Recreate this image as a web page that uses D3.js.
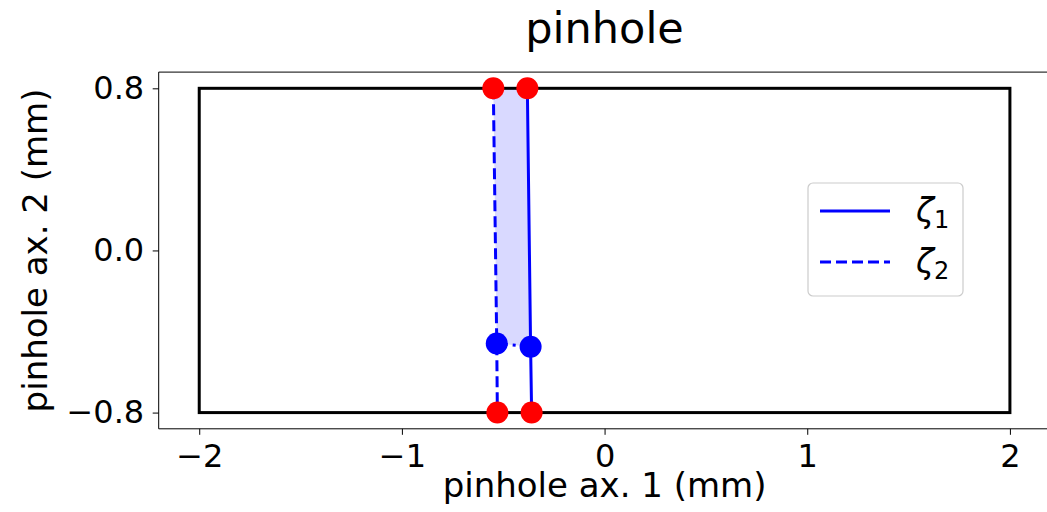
<!DOCTYPE html>
<html>
<head>
<meta charset="utf-8">
<script src="https://cdn.jsdelivr.net/npm/d3@7"></script>
<style>
  html, body { margin: 0; padding: 0; background: #fff; }
  svg { display: block; font-family: "DejaVu Sans", sans-serif; }
</style>
</head>
<body>
<svg id="chart" width="1047" height="512"></svg>
<script>
// Pinhole aperture outline (mm)
const apertureX = [-2, 2];
const apertureY = [-0.8, 0.8];

// Ray traces ζ1 (solid) and ζ2 (dashed) across the pinhole
const zeta1X = [-0.381, -0.365, -0.360];
const zeta1Y = [0.8, -0.475, -0.8];
const zeta2X = [-0.549, -0.532, -0.529];
const zeta2Y = [0.8, -0.459, -0.8];

// Edge intersections (red) and inner turning points (blue)
const edgeX = [-0.549, -0.381, -0.529, -0.360];
const edgeY = [0.8, 0.8, -0.8, -0.8];
const innerX = [-0.532, -0.365];
const innerY = [-0.459, -0.475];

// Axis ticks
const xTicks = [-2, -1, 0, 1, 2];
const yTicks = [-0.8, 0.0, 0.8];
const xDomain = [-2.2, 2.2];
const yDomain = [-0.88, 0.88];

const svg = d3.select("#chart");
const plotLeft = 158.7, plotTop = 72.1, plotBottom = 428.8;
const pxPerUnit = (plotBottom - plotTop) / (yDomain[1] - yDomain[0]);
const plotRight = plotLeft + pxPerUnit * (xDomain[1] - xDomain[0]);

const x = d3.scaleLinear().domain(xDomain).range([plotLeft, plotRight]);
const y = d3.scaleLinear().domain(yDomain).range([plotBottom, plotTop]);

const fmtY = d => d3.format(".1f")(d).replace("-", "\u2212");
const fmtX = d => String(d).replace("-", "\u2212");

// Shaded region between the two traces, above the inner points
const fillPts = [
  [zeta2X[0], zeta2Y[0]], [zeta1X[0], zeta1Y[0]],
  [zeta1X[1], zeta1Y[1]], [zeta2X[1], zeta2Y[1]]
];
svg.append("path")
  .attr("d", d3.line().x(d => x(d[0])).y(d => y(d[1]))(fillPts) + "Z")
  .attr("fill", "#0000ff").attr("fill-opacity", 0.15).attr("stroke", "none");

// Aperture rectangle
svg.append("rect")
  .attr("x", x(apertureX[0])).attr("y", y(apertureY[1]))
  .attr("width", x(apertureX[1]) - x(apertureX[0]))
  .attr("height", y(apertureY[0]) - y(apertureY[1]))
  .attr("fill", "none").attr("stroke", "#000").attr("stroke-width", 3);

const line = d3.line().x(d => x(d[0])).y(d => y(d[1]));
const z1 = zeta1X.map((v, i) => [v, zeta1Y[i]]);
const z2 = zeta2X.map((v, i) => [v, zeta2Y[i]]);

svg.append("path").attr("d", line(z1))
  .attr("fill", "none").attr("stroke", "#0000ff").attr("stroke-width", 3);
svg.append("path").attr("d", line(z2))
  .attr("fill", "none").attr("stroke", "#0000ff").attr("stroke-width", 3)
  .attr("stroke-dasharray", "11,5");

// Dotted link between inner points
svg.append("path").attr("d", line(innerX.map((v, i) => [v, innerY[i]])))
  .attr("fill", "none").attr("stroke", "#0000ff").attr("stroke-width", 3)
  .attr("stroke-dasharray", "3,5");

svg.selectAll("circle.edge").data(edgeX.map((v, i) => [v, edgeY[i]]))
  .enter().append("circle").attr("class", "edge")
  .attr("cx", d => x(d[0])).attr("cy", d => y(d[1])).attr("r", 11)
  .attr("fill", "#ff0000");
svg.selectAll("circle.inner").data(innerX.map((v, i) => [v, innerY[i]]))
  .enter().append("circle").attr("class", "inner")
  .attr("cx", d => x(d[0])).attr("cy", d => y(d[1])).attr("r", 11)
  .attr("fill", "#0000ff");

// Spines (right spine lies beyond the canvas edge)
const spine = svg.append("g").attr("stroke", "#000").attr("stroke-width", 1).attr("fill", "none");
spine.append("line").attr("x1", plotLeft).attr("x2", plotRight).attr("y1", plotTop).attr("y2", plotTop);
spine.append("line").attr("x1", plotLeft).attr("x2", plotRight).attr("y1", plotBottom).attr("y2", plotBottom);
spine.append("line").attr("x1", plotLeft).attr("x2", plotLeft).attr("y1", plotTop).attr("y2", plotBottom);
spine.append("line").attr("x1", plotRight).attr("x2", plotRight).attr("y1", plotTop).attr("y2", plotBottom);

// Axes
const xAxis = d3.axisBottom(x).tickValues(xTicks).tickFormat(fmtX).tickSize(6).tickPadding(9.5);
const gx = svg.append("g").attr("transform", `translate(0,${plotBottom})`).call(xAxis);
gx.select(".domain").remove();
gx.selectAll("text").attr("font-size", 32).attr("fill", "#000").attr("font-family", "DejaVu Sans");

const yAxis = d3.axisLeft(y).tickValues(yTicks).tickFormat(fmtY).tickSize(6).tickPadding(8.5);
const gy = svg.append("g").attr("transform", `translate(${plotLeft},0)`).call(yAxis);
gy.select(".domain").remove();
gy.selectAll("text").attr("font-size", 32).attr("fill", "#000").attr("font-family", "DejaVu Sans");

// Labels and title
svg.append("text").attr("x", (plotLeft + plotRight) / 2).attr("y", 43)
  .attr("text-anchor", "middle").attr("font-size", 43).text("pinhole");
svg.append("text").attr("x", (plotLeft + plotRight) / 2).attr("y", 497)
  .attr("text-anchor", "middle").attr("font-size", 34).text("pinhole ax. 1 (mm)");
svg.append("text").attr("transform", `translate(47,${(plotTop + plotBottom) / 2}) rotate(-90)`)
  .attr("text-anchor", "middle").attr("font-size", 34).text("pinhole ax. 2 (mm)");

// Legend
const lg = svg.append("g");
lg.append("rect").attr("x", 808).attr("y", 183).attr("width", 155).attr("height", 113)
  .attr("rx", 5).attr("fill", "#fff").attr("fill-opacity", 0.8)
  .attr("stroke", "#cccccc").attr("stroke-width", 1.2);
const legendItems = [
  { name: "1", dash: null, yy: 211 },
  { name: "2", dash: "11,5", yy: 262 }
];
legendItems.forEach(it => {
  lg.append("line").attr("x1", 820).attr("x2", 890).attr("y1", it.yy).attr("y2", it.yy)
    .attr("stroke", "#0000ff").attr("stroke-width", 3)
    .attr("stroke-dasharray", it.dash);
  const t = lg.append("text").attr("x", 916).attr("y", it.yy + 11).attr("font-size", 33);
  t.append("tspan").attr("font-style", "italic").text("\u03B6");
  t.append("tspan").attr("font-size", 24).attr("dy", 6).text(it.name);
});
</script>
</body>
</html>
